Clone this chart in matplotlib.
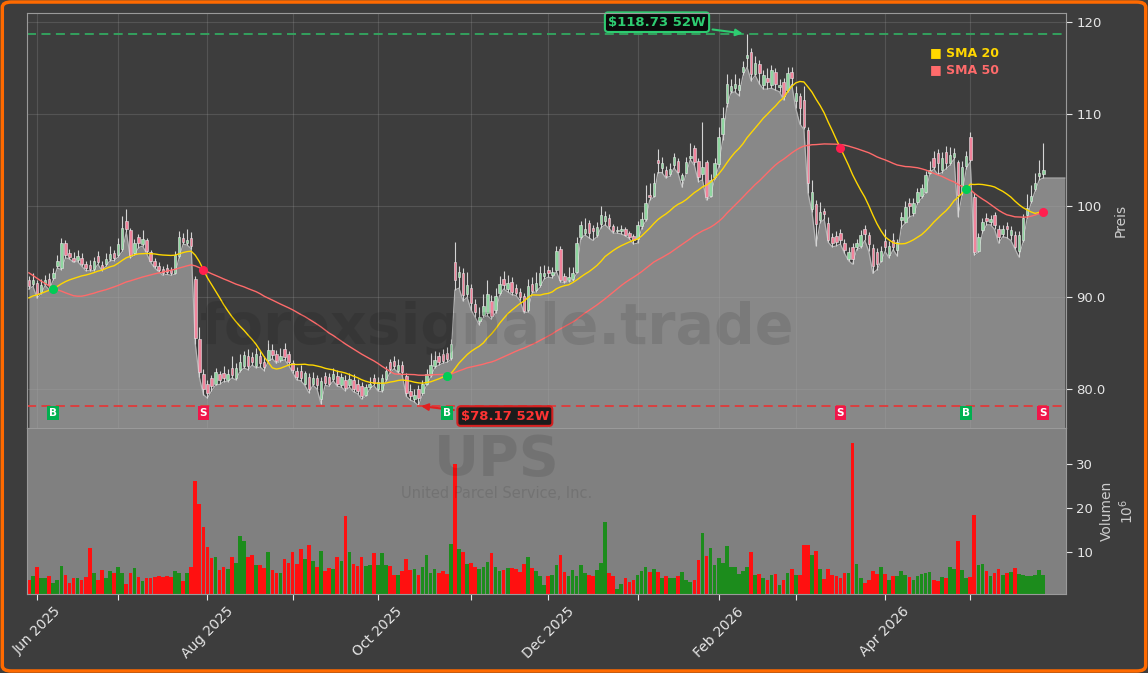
import numpy as np
import pandas as pd
import matplotlib
matplotlib.use("Agg")
import matplotlib.pyplot as plt
from matplotlib.patches import FancyBboxPatch

# --- data (UPS daily, May 2025 - May 2026) ---
holidays = ["2025-06-19", "2025-07-04", "2025-09-01", "2025-11-27", "2025-12-25",
            "2026-01-01", "2026-01-19", "2026-02-16", "2026-04-03", "2026-05-25"]

# closes before the visible window, only used to warm up the moving averages
closes_prior = [106.5, 105.8, 106.2, 105.0, 104.6, 104.1, 103.8, 103.2, 103.6, 102.5, 102.0,
                97.0, 93.5, 89.0, 86.8, 88.5, 86.2, 87.5, 88.0, 87.2, 86.5, 87.8, 88.4, 87.9,
                88.6, 89.2, 88.7, 89.5, 89.0, 88.3, 87.6, 88.2, 87.9, 88.4, 88.0, 88.8, 89.5,
                90.2, 89.8, 90.6, 91.0, 91.6, 90.8, 91.4, 90.6, 91.2, 90.5, 91.0, 90.4]

opens = [91.9, 91.4, 91.6, 90.6, 91.5, 92.0, 92.1, 93.4, 93.2, 95.9,
         94.8, 94.3, 94.1, 94.3, 93.6, 93.5, 93.1, 94.5, 93.5, 93.6,
         94.2, 94.8, 94.6, 95.3, 98.3, 97.3, 94.8, 96.6, 95.8, 96.2,
         94.9, 94.0, 93.4, 93.1, 93.2, 93.0, 92.7, 94.5, 96.5, 95.9,
         96.5, 92.0, 85.4, 81.6, 80.6, 81.2, 80.6, 81.6, 81.7, 81.0,
         82.3, 81.2, 82.1, 82.5, 83.6, 83.5, 82.5, 83.6, 83.0, 83.2,
         84.3, 83.8, 83.2, 84.4, 83.8, 82.8, 82.0, 82.0, 80.6, 81.3,
         80.6, 81.2, 78.9, 81.4, 81.3, 81.1, 81.4, 80.4, 81.0, 80.4,
         81.0, 80.6, 80.3, 79.4, 80.2, 81.2, 80.0, 79.9, 81.1, 82.9,
         83.1, 82.0, 82.6, 81.4, 79.8, 78.9, 80.0, 79.6, 80.6, 81.5,
         82.5, 83.6, 83.8, 83.9, 83.4, 93.8, 92.2, 92.6, 90.4, 91.0,
         89.3, 87.4, 88.1, 88.3, 89.6, 88.6, 90.5, 92.0, 90.9, 91.7,
         91.0, 90.6, 90.1, 88.6, 91.4, 90.8, 91.3, 92.3, 93.0, 92.4,
         93.0, 95.3, 92.3, 91.9, 92.0, 92.8, 96.6, 97.0, 98.1, 97.6,
         96.8, 98.0, 98.3, 98.7, 97.8, 97.2, 97.2, 97.5, 97.0, 96.7,
         96.4, 97.8, 98.5, 101.2, 101.0, 105.0, 104.1, 103.9, 103.4, 104.4,
         104.9, 102.8, 103.6, 105.2, 106.3, 104.9, 103.4, 104.7, 101.1, 103.1,
         104.5, 107.8, 111.2, 112.5, 112.8, 112.6, 114.6, 116.1, 116.7, 114.4,
         115.4, 113.1, 113.9, 113.1, 114.6, 112.9, 113.5, 112.6, 114.6, 111.4,
         111.9, 111.5, 108.2, 99.6, 100.2, 98.4, 99.4, 98.1, 96.6, 96.7,
         97.0, 95.9, 94.2, 95.5, 95.5, 95.6, 97.5, 96.8, 95.4, 94.9,
         94.0, 96.1, 94.6, 96.3, 95.2, 98.4, 98.2, 100.3, 99.2, 100.4,
         101.1, 101.5, 103.6, 105.2, 105.7, 103.9, 105.8, 104.6, 105.3, 104.8,
         101.5, 104.3, 107.5, 100.9, 95.1, 97.3, 98.7, 98.2, 99.0, 97.5,
         96.9, 97.8, 96.8, 96.8, 95.1, 96.3, 99.0, 100.5, 101.8, 103.2,
         103.4]

highs = [92.3, 92.6, 91.9, 92.0, 92.4, 92.6, 93.2, 94.6, 96.5, 96.3,
         95.3, 94.9, 95.2, 94.8, 94.0, 94.1, 94.4, 95.0, 94.0, 94.8,
         95.6, 95.2, 96.5, 98.9, 99.6, 97.6, 96.4, 96.9, 97.3, 96.5,
         95.2, 94.3, 93.8, 93.4, 93.6, 93.3, 95.0, 97.2, 97.0, 97.4,
         97.1, 92.3, 86.8, 82.2, 81.0, 81.5, 82.3, 82.0, 82.5, 82.2,
         83.6, 82.8, 83.8, 84.2, 84.4, 84.0, 84.5, 84.2, 83.6, 85.3,
         84.9, 84.3, 84.5, 85.0, 84.2, 83.2, 82.4, 82.6, 82.0, 81.7,
         81.9, 81.5, 81.3, 81.9, 81.8, 82.3, 82.1, 81.8, 81.5, 81.7,
         81.6, 81.1, 80.8, 80.6, 81.3, 81.6, 81.3, 81.6, 82.5, 83.3,
         83.6, 83.3, 83.1, 81.8, 80.6, 80.0, 80.4, 81.0, 82.2, 83.9,
         84.2, 84.0, 84.4, 84.6, 85.4, 96.0, 93.4, 93.2, 92.8, 91.5,
         89.8, 88.9, 90.4, 91.9, 90.3, 91.0, 92.3, 92.9, 92.4, 92.2,
         91.5, 91.0, 90.5, 92.0, 92.2, 92.8, 93.4, 93.5, 93.4, 93.3,
         95.6, 95.6, 92.6, 93.3, 93.3, 96.6, 98.3, 98.6, 98.4, 97.9,
         98.2, 100.0, 99.4, 99.1, 98.0, 97.8, 97.9, 97.7, 97.2, 96.9,
         98.3, 99.3, 102.2, 102.5, 103.5, 106.2, 105.3, 104.3, 104.6, 105.7,
         105.2, 103.6, 105.3, 106.8, 106.6, 105.2, 109.1, 105.0, 103.4, 105.2,
         108.6, 110.7, 114.4, 113.8, 114.4, 113.9, 115.8, 118.73, 117.2, 116.3,
         115.9, 114.8, 115.0, 115.3, 115.0, 113.8, 113.9, 115.1, 115.1, 113.0,
         112.3, 113.0, 108.6, 102.8, 100.6, 100.4, 99.7, 98.8, 97.0, 97.2,
         97.5, 96.4, 95.5, 95.9, 96.4, 97.3, 97.9, 97.1, 95.8, 95.4,
         95.6, 97.4, 96.1, 97.0, 96.4, 99.3, 100.5, 100.8, 100.8, 101.9,
         102.4, 103.8, 104.9, 106.0, 106.2, 105.8, 106.5, 106.4, 106.3, 105.0,
         104.9, 106.0, 108.0, 101.4, 97.0, 98.7, 99.2, 99.0, 99.3, 97.9,
         97.9, 98.2, 97.8, 97.2, 97.2, 99.1, 101.3, 102.2, 103.6, 105.0,
         106.8]

lows = [90.9, 91.2, 89.9, 90.4, 91.3, 90.8, 91.9, 93.2, 93.0, 94.3,
        94.2, 93.8, 93.9, 93.4, 92.9, 92.9, 92.9, 93.6, 92.9, 93.4,
        94.0, 94.0, 94.4, 95.0, 97.1, 94.3, 94.6, 95.4, 95.6, 94.8,
        93.8, 93.2, 92.8, 92.4, 92.5, 92.4, 92.5, 94.3, 95.8, 95.7,
        95.3, 84.9, 81.3, 79.4, 79.0, 79.8, 80.4, 80.5, 80.8, 80.8,
        81.2, 81.0, 81.9, 82.3, 82.1, 82.6, 82.3, 82.4, 82.0, 83.0,
        83.3, 82.8, 83.0, 83.2, 82.6, 81.8, 81.0, 80.9, 80.4, 79.6,
        80.4, 80.0, 78.4, 80.4, 80.3, 80.9, 80.3, 80.2, 79.8, 80.2,
        79.7, 79.5, 78.9, 79.2, 80.0, 80.4, 79.8, 79.7, 80.9, 81.8,
        82.2, 81.8, 81.5, 79.2, 78.8, 78.6, 78.17, 79.4, 80.4, 81.3,
        82.3, 82.6, 82.8, 82.9, 83.2, 90.8, 91.0, 89.6, 90.0, 88.6,
        87.8, 87.0, 87.8, 88.0, 87.6, 88.3, 90.2, 90.9, 90.6, 90.3,
        90.2, 89.7, 88.3, 88.4, 90.5, 90.6, 91.1, 92.0, 92.2, 92.1,
        92.8, 91.7, 91.6, 91.7, 91.8, 92.6, 96.4, 96.8, 96.5, 96.2,
        96.6, 97.6, 97.9, 97.5, 97.0, 97.0, 96.9, 96.7, 96.4, 95.8,
        95.9, 97.5, 98.3, 100.6, 100.9, 103.6, 103.6, 103.0, 103.2, 104.1,
        103.5, 102.0, 103.5, 105.0, 104.4, 102.6, 102.8, 100.6, 100.9, 102.9,
        104.2, 107.2, 110.8, 112.3, 112.4, 112.0, 114.2, 115.1, 113.6, 114.2,
        113.3, 112.7, 112.7, 112.8, 112.6, 112.4, 111.5, 112.4, 113.2, 110.6,
        108.9, 108.3, 101.4, 99.3, 95.6, 98.1, 98.5, 96.0, 95.5, 95.6,
        95.8, 94.8, 94.0, 93.6, 95.2, 95.4, 96.2, 95.0, 92.6, 93.0,
        93.9, 95.0, 94.3, 95.2, 94.5, 97.6, 98.1, 98.8, 98.9, 100.2,
        100.8, 101.4, 103.4, 104.0, 103.4, 103.6, 104.0, 104.4, 105.1, 98.8,
        101.2, 104.0, 104.8, 94.6, 94.9, 97.0, 97.9, 97.9, 97.4, 95.9,
        96.6, 96.5, 96.2, 95.3, 94.4, 96.0, 98.6, 100.3, 101.6, 102.8,
        103.0]

closes = [91.2, 91.9, 90.4, 91.3, 91.9, 91.3, 92.6, 94.0, 95.9, 94.6,
          94.4, 94.0, 94.5, 93.6, 93.2, 93.1, 94.0, 93.8, 93.1, 94.2,
          94.7, 94.3, 95.8, 97.6, 97.5, 94.6, 95.9, 95.9, 96.4, 95.0,
          94.0, 93.4, 93.0, 92.7, 92.8, 92.6, 94.6, 96.6, 96.0, 96.3,
          95.6, 85.6, 81.9, 80.0, 79.6, 80.3, 81.9, 81.0, 81.2, 81.6,
          81.5, 82.3, 83.0, 83.7, 82.5, 83.0, 83.8, 82.8, 82.4, 84.3,
          83.7, 83.1, 83.6, 83.5, 83.0, 82.1, 81.3, 81.2, 81.7, 80.0,
          81.2, 80.4, 80.9, 80.7, 80.6, 81.6, 80.6, 81.3, 80.1, 81.1,
          80.0, 79.8, 79.2, 80.2, 80.6, 80.7, 80.8, 81.2, 82.0, 82.2,
          82.5, 82.6, 81.9, 79.6, 79.2, 79.4, 79.0, 80.6, 81.6, 82.6,
          83.2, 83.0, 83.1, 83.3, 84.9, 91.9, 92.8, 90.3, 91.3, 89.4,
          88.4, 87.9, 89.0, 90.4, 88.0, 90.1, 91.4, 91.3, 91.6, 90.6,
          90.5, 90.0, 88.5, 91.2, 90.7, 91.6, 92.6, 92.7, 92.6, 92.8,
          95.1, 91.9, 91.8, 92.2, 92.7, 95.9, 97.9, 97.4, 97.0, 97.2,
          97.7, 99.0, 98.9, 97.8, 97.2, 97.3, 97.5, 96.8, 96.6, 96.3,
          97.9, 98.5, 100.3, 100.9, 102.5, 104.6, 104.6, 103.2, 104.0, 105.3,
          103.7, 103.3, 104.8, 105.4, 104.7, 103.1, 104.2, 100.9, 102.8, 104.6,
          107.5, 109.6, 113.3, 113.0, 113.3, 113.2, 115.1, 116.4, 114.4, 115.6,
          114.5, 114.2, 113.5, 114.8, 113.3, 113.2, 112.0, 114.5, 113.9, 112.3,
          110.6, 108.6, 102.5, 101.5, 98.0, 99.3, 99.1, 96.3, 95.9, 96.0,
          96.2, 95.2, 94.9, 94.2, 95.9, 96.8, 96.9, 95.8, 93.4, 93.6,
          95.0, 95.5, 95.6, 95.5, 96.0, 98.8, 99.8, 100.0, 100.3, 101.5,
          101.9, 103.3, 103.9, 104.2, 104.6, 105.2, 104.6, 105.5, 105.7, 101.2,
          104.2, 105.4, 105.0, 94.9, 96.6, 98.2, 98.3, 98.5, 97.9, 96.6,
          97.4, 97.4, 97.3, 95.5, 96.8, 98.6, 99.7, 101.0, 102.5, 103.6,
          103.9]

# volume in millions
volumes = [3.6, 4.5, 6.7, 4.0, 4.0, 4.5, 2.9, 3.7, 6.9, 4.8,
           2.9, 4.0, 4.0, 3.6, 4.4, 10.8, 5.2, 3.6, 5.9, 4.0,
           5.7, 5.3, 6.6, 5.2, 2.7, 5.3, 6.3, 4.4, 3.4, 4.1,
           4.0, 4.4, 4.5, 4.4, 4.6, 4.4, 5.7, 5.2, 3.4, 5.2,
           6.7, 26.1, 20.9, 15.8, 11.2, 8.6, 8.9, 6.0, 6.7, 6.1,
           8.8, 7.5, 13.6, 12.5, 8.9, 9.3, 7.1, 7.1, 6.3, 10.0,
           5.9, 5.2, 5.2, 8.4, 7.5, 9.9, 7.3, 10.6, 8.4, 11.6,
           7.9, 6.7, 10.3, 5.6, 6.3, 6.2, 8.9, 8.0, 18.2, 10.0,
           7.3, 6.9, 8.9, 6.9, 7.1, 9.8, 7.1, 9.7, 7.1, 6.9,
           4.7, 4.8, 5.7, 8.4, 5.9, 6.1, 4.8, 6.7, 9.3, 5.2,
           6.1, 5.2, 5.7, 5.0, 11.8, 30.0, 10.6, 10.0, 7.3, 7.6,
           6.5, 6.2, 6.5, 7.7, 9.8, 6.7, 5.7, 5.9, 6.3, 6.3,
           6.2, 5.5, 7.3, 8.9, 6.3, 5.7, 4.5, 2.5, 4.5, 4.8,
           7.1, 9.3, 5.5, 4.5, 6.0, 4.5, 7.1, 5.2, 4.8, 4.6,
           5.9, 7.4, 16.8, 5.2, 4.5, 1.6, 2.7, 4.0, 3.2, 3.7,
           4.8, 5.7, 6.7, 5.5, 6.1, 5.5, 4.2, 4.5, 4.0, 4.0,
           4.5, 5.4, 3.7, 3.2, 3.7, 8.2, 14.3, 9.1, 11.0, 7.1,
           8.7, 7.4, 11.4, 6.7, 6.7, 5.0, 5.7, 6.7, 10.0, 4.8,
           5.0, 4.2, 3.6, 4.8, 5.0, 2.5, 3.7, 5.3, 6.1, 4.8,
           4.8, 11.5, 11.5, 9.3, 10.2, 6.1, 3.8, 6.1, 4.8, 4.5,
           4.2, 5.2, 5.2, 34.8, 7.3, 4.0, 3.0, 3.6, 5.7, 5.0,
           6.7, 5.0, 3.7, 4.5, 4.5, 5.7, 4.8, 4.4, 3.6, 4.6,
           5.0, 5.3, 5.4, 3.6, 3.4, 4.4, 4.1, 6.5, 6.1, 12.5,
           5.9, 4.1, 4.3, 18.4, 7.1, 7.3, 5.7, 4.5, 5.3, 6.1,
           4.8, 5.2, 5.5, 6.3, 5.0, 4.7, 4.5, 4.5, 4.7, 5.9,
           4.8]

# SMA crossover signals (bar positions)
buy_idx = [6, 103, 231]
sell_idx = [43, 200, 250]

price_ticks = [80, 90, 100, 110, 120]
price_tick_labels = ["80.0", "90.0", "100", "110", "120"]
vol_ticks = [10, 20, 30]

# --- prep ---
n = len(closes)
x = np.arange(n)
o = np.array(opens)
h = np.array(highs)
l = np.array(lows)
c = np.array(closes)
v = np.array(volumes)
up = c >= o

dates = pd.bdate_range("2025-05-29", periods=n, freq="C", holidays=holidays)

allc = pd.Series(closes_prior + closes)
sma20 = allc.rolling(20).mean().values[len(closes_prior):]
sma50 = allc.rolling(50).mean().values[len(closes_prior):]

# month starts for the x axis
month_pos = [i for i in range(1, n) if dates[i].month != dates[i - 1].month]
month_lab = [dates[i].strftime("%b %Y") if k % 2 == 0 else "" for k, i in enumerate(month_pos)]

BG = "#3d3d3d"
TXT = "#e6e6e6"
SPINE = "#9a9a9a"

fig = plt.figure(figsize=(11.48, 6.73), dpi=100, facecolor=BG)
W, H = 1148, 673
ax = fig.add_axes([27 / W, 1 - 428 / H, (1066 - 27) / W, (428 - 13) / H])
axv = fig.add_axes([27 / W, 1 - 594 / H, (1066 - 27) / W, (594 - 428) / H], sharex=ax)

xmax = 255.6
ax.set_xlim(-0.47, xmax)
ax.set_ylim(75.75, 121.0)
ax.set_facecolor(BG)

# area under the lows
fx = np.append(x, xmax - 0.3)
fy = np.append(l, l[-1])
ax.fill_between(fx, fy, 70, color="#888888", zorder=1, lw=0)
ax.plot(fx, fy, color="#b4b4b4", lw=0.9, zorder=2)

# candles
ax.vlines(x, l, h, color="#d4d4d4", lw=0.8, zorder=3)
body = np.maximum(np.abs(c - o), 0.08)
ax.bar(x, body, bottom=np.minimum(o, c), width=0.62,
       color=np.where(up, "#8fd6a0", "#f2849c"), edgecolor="#e8e8e8",
       linewidth=0.4, zorder=4)

# moving averages
ax.plot(x, sma20, color="#ffd700", lw=1.0, zorder=5)
ax.plot(x, sma50, color="#ff6b6b", lw=1.0, zorder=5)

# 52 week high / low
hi_i, lo_i = int(np.argmax(h)), int(np.argmin(l))
hi_v, lo_v = h[hi_i], l[lo_i]
ax.axhline(hi_v, color="#33a860", lw=1.3, ls=(0, (5, 3)), zorder=3)
ax.axhline(lo_v, color="#e03a3a", lw=1.3, ls=(0, (5, 3)), zorder=3)
ax.annotate(f"${hi_v:.2f} 52W", xy=(hi_i - 0.4, hi_v), xytext=(154.8, 120.0),
            ha="center", va="center", color="#2ecc71", fontsize=9.5, fontweight="bold",
            bbox=dict(boxstyle="round,pad=0.25", fc="#0b0b0b", ec="#2ecc71", lw=1.5),
            arrowprops=dict(arrowstyle="-|>", color="#2ecc71", lw=1.5, mutation_scale=10),
            zorder=8)
ax.annotate(f"${lo_v:.2f} 52W", xy=(lo_i, lo_v), xytext=(117.3, 77.05),
            ha="center", va="center", color="#ff3333", fontsize=9.5, fontweight="bold",
            bbox=dict(boxstyle="round,pad=0.25", fc="#1c1c1c", ec="#d42020", lw=1.5),
            arrowprops=dict(arrowstyle="-|>", color="#e02020", lw=1.5, mutation_scale=10),
            zorder=8)

# crossover markers
for i in buy_idx:
    ax.plot(i, sma20[i], "o", color="#00cc55", ms=5.5, zorder=7)
    ax.text(i, 77.35, "B", color="white", fontsize=7.5, fontweight="bold", ha="center",
            va="center", zorder=8,
            bbox=dict(boxstyle="square,pad=0.2", fc="#00b050", ec="none"))
for i in sell_idx:
    ax.plot(i, sma20[i], "o", color="#ff1f4f", ms=5.5, zorder=7)
    ax.text(i, 77.35, "S", color="white", fontsize=7.5, fontweight="bold", ha="center",
            va="center", zorder=8,
            bbox=dict(boxstyle="square,pad=0.2", fc="#f0164a", ec="none"))

# legend
ax.text(0.869, 0.904, "■ SMA 20", color="#ffd700", fontsize=9, fontweight="bold",
        transform=ax.transAxes, va="center", zorder=8)
ax.text(0.869, 0.863, "■ SMA 50", color="#ff6b6b", fontsize=9, fontweight="bold",
        transform=ax.transAxes, va="center", zorder=8)

# grid drawn over the fill, faint
ax.set_xticks(month_pos)
ax.grid(True, color="#a8a8a8", alpha=0.22, lw=0.8, zorder=2.5)
ax.set_axisbelow(False)
ax.tick_params(axis="x", length=0, labelbottom=False)
ax.yaxis.tick_right()
ax.yaxis.set_label_position("right")
ax.set_yticks(price_ticks)
ax.set_yticklabels(price_tick_labels)
ax.tick_params(axis="y", colors=TXT, labelsize=9.5, length=4)
ax.set_ylabel("Preis", color="#cccccc", fontsize=10, labelpad=6)
for s in ax.spines.values():
    s.set_color(SPINE)
    s.set_zorder(9)

# volume pane
axv.set_facecolor("#808080")
axv.bar(x, v, width=0.9, color=np.where(up, "#1c8c1c", "#ff1010"), zorder=2)
axv.set_ylim(0.45, 38.2)
axv.yaxis.tick_right()
axv.yaxis.set_label_position("right")
axv.set_yticks(vol_ticks)
axv.set_yticklabels([str(t) for t in vol_ticks])
axv.tick_params(axis="y", colors=TXT, labelsize=9.5, length=4)
axv.set_ylabel("Volumen\n$10^{6}$", color="#cccccc", fontsize=10, labelpad=5)
axv.set_xticks(month_pos)
axv.set_xticklabels(month_lab, rotation=45)
axv.tick_params(axis="x", colors=TXT, labelsize=10, length=4)
for s in axv.spines.values():
    s.set_color(SPINE)

# watermarks
fig.text(497 / W, 1 - 328 / H, "forexsignale.trade", fontsize=41, fontweight="bold",
         color="black", alpha=0.1, ha="center", va="center", zorder=20)
fig.text(497 / W, 1 - 460 / H, "UPS", fontsize=40, fontweight="bold",
         color="black", alpha=0.1, ha="center", va="center", zorder=20)
fig.text(497 / W, 1 - 494 / H, "United Parcel Service, Inc.", fontsize=10.5,
         color="black", alpha=0.1, ha="center", va="center", zorder=20)

# orange frame
fig.patches.append(FancyBboxPatch((0.002, 0.003), 0.996, 0.994,
                                  boxstyle="round,pad=0,rounding_size=0.008",
                                  transform=fig.transFigure, fill=False,
                                  ec="#ff6a00", lw=2.5))

fig.savefig("out.png", dpi=100, facecolor=BG)
